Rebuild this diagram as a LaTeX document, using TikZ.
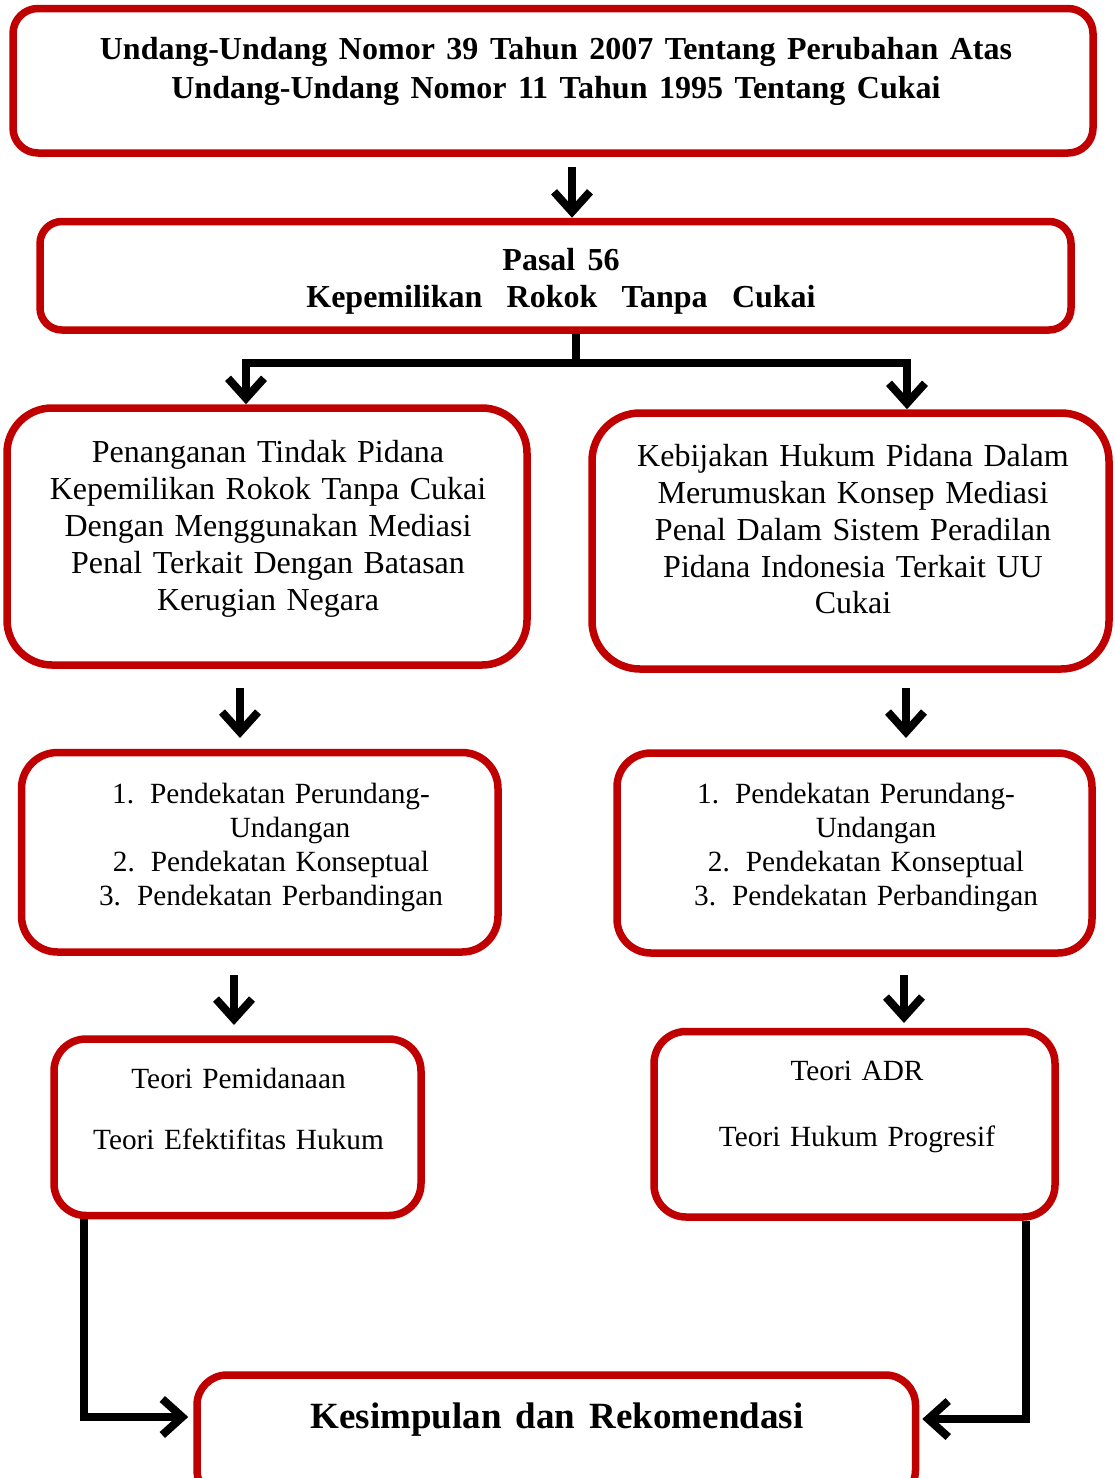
\documentclass[tikz,border=0pt]{standalone}
\usepackage{fontspec}
\setmainfont{Liberation Serif}
\usetikzlibrary{arrows.meta}
\definecolor{boxred}{RGB}{192,0,0}
\newcommand{\myws}[1]{\spaceskip=#1em plus 0.1em minus 0.02em\relax}
\tikzset{
  box/.style={draw=boxred, line width=7.5pt, inner sep=0pt},
  txt/.style={align=center, inner sep=0pt, font=\fontsize{32}{37}\selectfont\myws{0.33}},
  conn/.style={line width=8pt, draw=black},
  arr/.style={conn, -{Straight Barb[length=20pt,width=36pt]}}
}
\begin{document}
\begin{tikzpicture}[x=1pt,y=-1pt]
\useasboundingbox (0,0) rectangle (1114,1478);
\fill[white] (0,0) rectangle (1114,1478);
\clip (0,0) rectangle (1114,1478);

% boxes
\node[box, rounded corners=25pt, minimum width=1080pt, minimum height=144.5pt] (b0) at (553,80.75) {};
\node[box, rounded corners=22pt, minimum width=1031pt, minimum height=108.5pt] (b1) at (555.5,275.75) {};
\node[box, rounded corners=45pt, minimum width=520pt, minimum height=257pt] (b2) at (267,536.5) {};
\node[box, rounded corners=48pt, minimum width=517pt, minimum height=256pt] (b3) at (850.5,541) {};
\node[box, rounded corners=36pt, minimum width=476.5pt, minimum height=199.5pt] (b4) at (259.75,852.25) {};
\node[box, rounded corners=34pt, minimum width=475pt, minimum height=200pt] (b5) at (854.5,853) {};
\node[box, rounded corners=32pt, minimum width=367pt, minimum height=176.5pt] (b6) at (237.5,1127.25) {};
\node[box, rounded corners=32pt, minimum width=401pt, minimum height=185.5pt] (b7) at (854.5,1124.25) {};
\node[box, rounded corners=30pt, minimum width=718.5pt, minimum height=125pt] (b8) at (556.25,1437.5) {};

% texts
\node[txt, font=\bfseries\fontsize{32}{39}\selectfont\myws{0.36}] (t0) at (556,71)
  {Undang-Undang Nomor 39 Tahun 2007 Tentang Perubahan Atas\\Undang-Undang Nomor 11 Tahun 1995 Tentang Cukai};
\node[txt, font=\bfseries\fontsize{32}{37}\selectfont\myws{0.38}] (t1) at (561,281.5)
  {Pasal 56\\Kepemilikan\ \ Rokok\ \ Tanpa\ \ Cukai};
\node[txt] (t2) at (268,529)
  {Penanganan Tindak Pidana\\Kepemilikan Rokok Tanpa Cukai\\Dengan Menggunakan Mediasi\\Penal Terkait Dengan Batasan\\Kerugian Negara};
\node[txt, font=\fontsize{32}{36.75}\selectfont\myws{0.33}] (t3) at (853,529.5)
  {Kebijakan Hukum Pidana Dalam\\Merumuskan Konsep Mediasi\\Penal Dalam Sistem Peradilan\\Pidana Indonesia Terkait UU\\Cukai};
\node[txt, font=\fontsize{29.3}{34}\selectfont\myws{0.33}] (t4) at (271,847)
  {1.\hspace{16pt}Pendekatan Perundang-\\\hspace*{38pt}Undangan\\2.\hspace{16pt}Pendekatan Konseptual\\3.\hspace{16pt}Pendekatan Perbandingan};
\node[txt, font=\fontsize{29.3}{34}\selectfont\myws{0.33}] (t5) at (866,847)
  {1.\hspace{16pt}Pendekatan Perundang-\hspace*{20pt}\\\hspace*{20pt}Undangan\\2.\hspace{16pt}Pendekatan Konseptual\\3.\hspace{16pt}Pendekatan Perbandingan};
\node[txt, font=\fontsize{29.3}{61}\selectfont\myws{0.33}] (t6) at (238.5,1108.5)
  {Teori Pemidanaan\\Teori Efektifitas Hukum};
\node[txt, font=\fontsize{29.3}{66}\selectfont\myws{0.33}] (t7) at (857,1107)
  {Teori ADR\\Teori Hukum Progresif};
\node[txt, font=\bfseries\fontsize{37}{42}\selectfont\myws{0.38}] (t8) at (557,1420)
  {Kesimpulan dan Rekomendasi};

% connector coordinates
\coordinate (a0) at (572,167);
\coordinate (j) at (576,363);
\coordinate (jl) at (246,363);
\coordinate (jr) at (907,363);
\coordinate (a1s) at (240,688);
\coordinate (a1e) at (240,738);
\coordinate (a2s) at (906,688);
\coordinate (a2e) at (906,738);
\coordinate (a3s) at (234,975);
\coordinate (a3e) at (234,1025);
\coordinate (a4s) at (904,975);
\coordinate (a4e) at (904,1023);
\coordinate (bl) at (84,1417);
\coordinate (br) at (1026,1419);

% connectors
\draw[arr] (a0) -- (a0 |- b1.north);
\draw[conn] (b1.south -| j) -- (j);
\draw[arr] (j) -| (b2.north -| jl);
\draw[arr] (j) -| (b3.north -| jr);
\draw[arr] (a1s) -- (a1e);
\draw[arr] (a2s) -- (a2e);
\draw[arr] (a3s) -- (a3e);
\draw[arr] (a4s) -- (a4e);
\draw[arr, shorten >=5pt] (b6.south -| bl) |- (b8.west |- bl);
\draw[arr, shorten >=3pt] (b7.south -| br) |- (b8.east |- br);
\end{tikzpicture}
\end{document}
